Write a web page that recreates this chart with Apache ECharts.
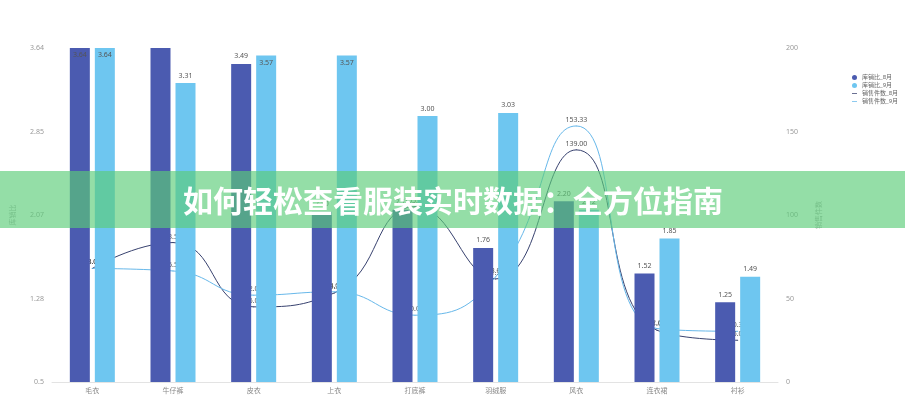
<!DOCTYPE html>
<html><head><meta charset="utf-8">
<script src="https://cdn.jsdelivr.net/npm/echarts@6/dist/echarts.min.js"></script>
<style>html,body{margin:0;padding:0;background:#fff}#c{width:905px;height:400px}</style>
</head><body><div id="c"></div>
<script>
const categories = ['毛衣','牛仔裤','皮衣','上衣','打底裤','羽绒服','风衣','连衣裙','衬衫'];
const ratioAug = [3.64, 3.70, 3.49, 2.10, 2.12, 1.76, 2.20, 1.52, 1.25];
const ratioSep = [3.64, 3.31, 3.57, 3.57, 3.00, 3.03, 2.12, 1.85, 1.49];
const salesAug = [68.00, 83.50, 45.00, 53.33, 105.00, 61.75, 139.00, 31.00, 25.00];
const salesSep = [68.00, 66.50, 52.00, 54.00, 40.00, 63.00, 153.33, 32.00, 30.33];
const ratioTicks = ['0.5','1.28','2.07','2.85','3.64'];
const salesTicks = ['0','50','100','150','200'];
const seriesNames = ['库销比_8月','库销比_9月','销售件数_8月','销售件数_9月'];
const axisNames = ['库销比','销售件数'];
const bannerTitle = '如何轻松查看服装实时数据：全方位指南';

const RATIO_MIN = 0.5, RATIO_MAX = 3.64;
const FONT = '"Noto Sans", "Noto Sans CJK SC", sans-serif';
const C_DARK = '#4b5bb0', C_LIGHT = '#6ec6f0', L_DARK = '#38426f', L_LIGHT = '#67b8ea';

function barData(arr){
  return arr.map(v => v > RATIO_MAX ? {value: v, label: {show: false}}
    : (v >= RATIO_MAX - 0.1 ? {value: v, label: {position: 'insideTop', distance: 4}} : v));
}
const barLabel = {show: true, position: 'top', distance: 4, fontSize: 7, color: '#555', fontFamily: FONT,
  formatter: p => Number(p.value).toFixed(2)};
const lineLabel = {show: true, position: 'top', distance: 2, fontSize: 7, color: '#555', fontFamily: FONT,
  formatter: p => Number(p.value).toFixed(2)};

const chart = echarts.init(document.getElementById('c'), null, {renderer: 'canvas'});
chart.setOption({
  animation: false,
  backgroundColor: '#fff',
  textStyle: {fontFamily: FONT},
  grid: {left: 52, right: 127, top: 48, bottom: 18, containLabel: false},
  legend: {
    orient: 'vertical', left: 847, top: 69,
    itemWidth: 5, itemHeight: 5, itemGap: 1,
    textStyle: {fontSize: 6, color: '#666', fontFamily: FONT, lineHeight: 7},
    data: [
      {name: seriesNames[0], icon: 'circle'},
      {name: seriesNames[1], icon: 'circle'},
      {name: seriesNames[2], icon: 'path://M0,4 L8,4 L8,5.2 L0,5.2 Z'},
      {name: seriesNames[3], icon: 'path://M0,4 L8,4 L8,5.2 L0,5.2 Z'}
    ]
  },
  xAxis: {
    type: 'category', data: categories,
    axisLine: {lineStyle: {color: '#e3e3e3'}},
    axisTick: {show: false},
    axisLabel: {fontSize: 7, color: '#888', margin: 5, fontFamily: FONT}
  },
  yAxis: [
    {
      type: 'value', min: RATIO_MIN, max: RATIO_MAX, interval: (RATIO_MAX - RATIO_MIN) / 4,
      name: axisNames[0], nameLocation: 'middle', nameGap: 36,
      nameTextStyle: {fontSize: 7, color: '#aaa', fontFamily: FONT},
      axisLine: {show: false}, axisTick: {show: false}, splitLine: {show: false},
      axisLabel: {fontSize: 7, color: '#999', margin: 8, formatter: (v, i) => ratioTicks[i]}
    },
    {
      type: 'value', min: 0, max: 200, interval: 50, position: 'right',
      name: axisNames[1], nameLocation: 'middle', nameGap: 37,
      nameTextStyle: {fontSize: 7, color: '#aaa', fontFamily: FONT},
      axisLine: {show: false}, axisTick: {show: false}, splitLine: {show: false},
      axisLabel: {fontSize: 7, color: '#999', margin: 8, formatter: (v, i) => salesTicks[i]}
    }
  ],
  series: [
    {name: seriesNames[0], type: 'bar', yAxisIndex: 0, z: 2, barWidth: 20, barGap: '25%', clip: true,
     itemStyle: {color: C_DARK}, label: barLabel, data: barData(ratioAug)},
    {name: seriesNames[1], type: 'bar', yAxisIndex: 0, z: 2, barWidth: 20, barGap: '25%', clip: true,
     itemStyle: {color: C_LIGHT}, label: barLabel, data: barData(ratioSep)},
    {name: seriesNames[2], type: 'line', yAxisIndex: 1, z: 1, smooth: true, symbol: 'circle', symbolSize: 1,
     lineStyle: {color: L_DARK, width: 1}, itemStyle: {color: L_DARK}, label: lineLabel, data: salesAug},
    {name: seriesNames[3], type: 'line', yAxisIndex: 1, z: 1, smooth: true, symbol: 'circle', symbolSize: 1,
     lineStyle: {color: L_LIGHT, width: 1}, itemStyle: {color: L_LIGHT}, label: lineLabel, data: salesSep}
  ],
  graphic: [
    {type: 'rect', z: 100, silent: true, shape: {x: 0, y: 171, width: 905, height: 57},
     style: {fill: 'rgba(90,205,120,0.65)'}},
    {type: 'text', z: 101, silent: true, x: 453, y: 201,
     style: {text: bannerTitle, fill: '#fff', align: 'center', verticalAlign: 'middle',
             font: 'bold 30px "Noto Sans CJK SC", sans-serif'}}
  ]
});
</script>
</body></html>
